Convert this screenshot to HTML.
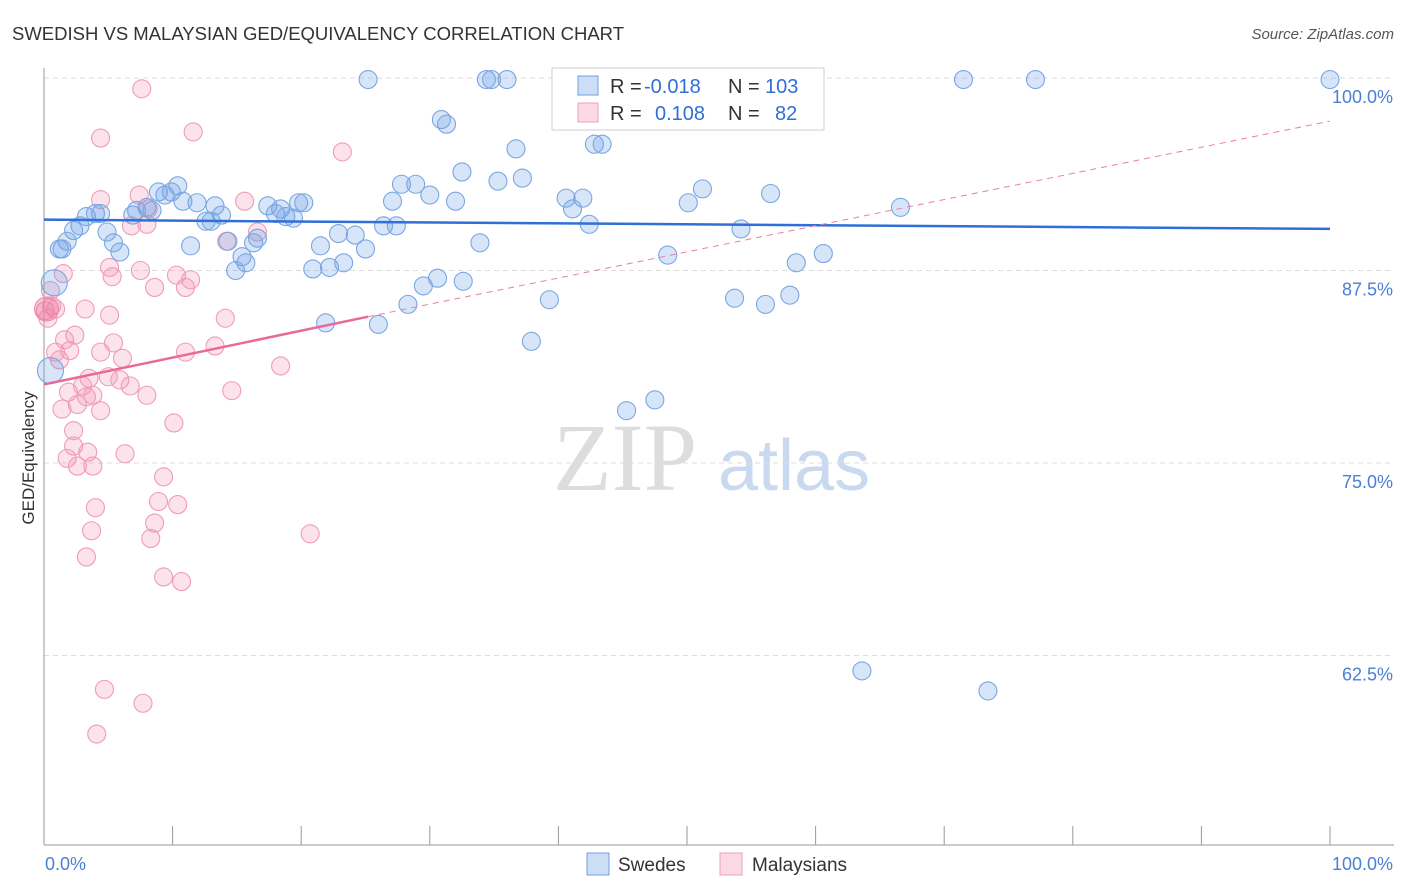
<!DOCTYPE html>
<html><head><meta charset="utf-8"><style>
body{margin:0;background:#fff;font-family:"Liberation Sans",sans-serif}
svg{display:block}
</style></head><body>
<svg id="c" width="1406" height="892"></svg>
<script>
const blueX=[25.2,34.4,34.8,36.0,41.3,46.8,50.2,71.5,77.1,100,30.9,31.3,36.7,42.8,43.4,32.5,35.3,37.2,27.8,28.9,30.0,27.1,32.0,40.6,41.9,41.1,51.2,56.5,50.1,66.6,10.4,8.9,9.4,9.9,10.8,11.9,13.3,8.0,8.4,7.2,6.9,13.8,12.6,13.0,17.4,18.0,18.4,18.8,19.4,19.8,20.2,3.3,4.0,4.4,2.8,2.3,4.9,5.4,5.9,1.8,1.4,1.2,11.4,14.3,16.6,16.3,15.4,15.7,14.9,21.5,22.9,24.2,25.0,26.4,27.4,33.9,42.4,54.2,20.9,22.2,23.3,30.6,29.5,32.6,28.3,39.3,48.5,58.5,60.6,53.7,56.1,58.0,21.9,26.0,37.9,45.3,47.5,63.6,73.4];
const blueY=[99.9,99.9,99.9,99.9,99.9,99.9,99.9,99.9,99.9,99.9,97.3,97.0,95.4,95.7,95.7,93.9,93.3,93.5,93.1,93.1,92.4,92.0,92.0,92.2,92.2,91.5,92.8,92.5,91.9,91.6,93.0,92.6,92.4,92.6,92.0,91.9,91.7,91.6,91.4,91.4,91.1,91.1,90.7,90.7,91.7,91.2,91.5,91.0,90.9,91.9,91.9,91.0,91.2,91.2,90.4,90.1,90.0,89.3,88.7,89.4,88.9,88.9,89.1,89.4,89.6,89.3,88.4,88.0,87.5,89.1,89.9,89.8,88.9,90.4,90.4,89.3,90.5,90.2,87.6,87.7,88.0,87.0,86.5,86.8,85.3,85.6,88.5,88.0,88.6,85.7,85.3,85.9,84.1,84.0,82.9,78.4,79.1,61.5,60.2];
const blueBigX=[0.8,0.5], blueBigY=[86.7,81.0];
const pinkX=[7.6,11.6,4.4,23.2,4.4,7.4,15.6,16.6,6.8,8.0,8.1,14.2,5.1,5.3,7.5,10.3,11.4,11.0,8.6,1.5,0.5,0.6,0.9,0.1,0.3,3.2,5.1,14.1,2.4,1.6,2.0,0.9,4.4,5.4,13.3,11.0,6.1,18.4,5.0,3.5,6.7,8.0,14.6,3.0,1.9,3.3,3.8,2.6,4.4,1.4,10.1,2.3,2.3,3.4,1.8,6.3,2.6,3.8,9.3,4.0,8.9,10.4,8.6,3.7,8.3,20.7,3.3,9.3,10.7,4.7,7.7,4.1,5.9,1.2];
const pinkY=[99.3,96.5,96.1,95.2,92.1,92.4,92.0,90.0,90.4,90.5,91.5,89.4,87.7,87.1,87.5,87.2,86.9,86.4,86.4,87.3,86.2,85.2,85.0,84.9,84.4,85.0,84.6,84.4,83.3,83.0,82.3,82.2,82.2,82.8,82.6,82.2,81.8,81.3,80.6,80.5,80.0,79.4,79.7,80.0,79.6,79.3,79.4,78.8,78.4,78.5,77.6,77.1,76.1,75.7,75.3,75.6,74.8,74.8,74.1,72.1,72.5,72.3,71.1,70.6,70.1,70.4,68.9,67.6,67.3,60.3,59.4,57.4,80.4,81.7];
const pinkBigX=[0.2], pinkBigY=[85.0];
const yTicks=[100,87.5,75,62.5];
const yTickLabels=["100.0%","87.5%","75.0%","62.5%"];
const blueTrend=[90.8,90.2];
const pinkTrend=[80.1,84.5,97.2];

const NS="http://www.w3.org/2000/svg", svg=document.getElementById('c');
const X=v=>44+v*12.86, Y=v=>78+(100-v)*15.4;
function el(t,a,p){const e=document.createElementNS(NS,t);for(const k in a)e.setAttribute(k,a[k]);(p||svg).appendChild(e);return e;}

let t=el('text',{x:12,y:40,'font-size':18.5,fill:'#333'});t.textContent='SWEDISH VS MALAYSIAN GED/EQUIVALENCY CORRELATION CHART';

t=el('text',{x:1394,y:39,'font-size':15,fill:'#555','text-anchor':'end','font-style':'italic'});t.textContent='Source: ZipAtlas.com';


t=el('text',{x:553,y:490,'font-size':96,fill:'#ddd','font-family':'Liberation Serif,serif'});t.textContent='ZIP';

t=el('text',{x:718,y:490,'font-size':72,fill:'#c9d9f0'});t.textContent='atlas';


yTicks.forEach((v,i)=>{
 const g=el('line',{x1:44,x2:1394,y1:Y(v),y2:Y(v),stroke:'#ddd','stroke-dasharray':'5,4'});
 
 const l=el('text',{x:1393,y:Y(v)+25,'font-size':18,fill:'#4a7fd6','text-anchor':'end'});l.textContent=yTickLabels[i];
 
});
let a=el('line',{x1:44,x2:44,y1:68,y2:845,stroke:'#999'});
a=el('line',{x1:44,x2:1394,y1:845,y2:845,stroke:'#999'});
for(let i=0;i<=10;i++){const k=el('line',{x1:X(i*10),x2:X(i*10),y1:826,y2:845,stroke:'#999'});}
t=el('text',{x:45,y:870,'font-size':18,fill:'#4a7fd6'});t.textContent='0.0%';
t=el('text',{x:1393,y:870,'font-size':18,fill:'#4a7fd6','text-anchor':'end'});t.textContent='100.0%';
t=el('text',{x:34,y:458,'font-size':17,fill:'#333','text-anchor':'middle',transform:'rotate(-90 34 458)'});t.textContent='GED/Equivalency';


function dots(xs,ys,r,fill,stroke,name){xs.forEach((x,i)=>{const c=el('circle',{cx:X(x),cy:Y(ys[i]),r:r,fill:fill,stroke:stroke,'stroke-width':1.1});
 });}
dots(pinkX,pinkY,9,'rgba(244,150,180,0.28)','#ef9cb8','malaysian-point');
dots(pinkBigX,pinkBigY,12,'rgba(236,100,140,0.35)','#ec8aab','malaysian-point');
dots(blueX,blueY,9,'rgba(110,160,230,0.28)','#7aa6e2','swede-point');
dots(blueBigX,blueBigY,13,'rgba(110,160,230,0.28)','#7aa6e2','swede-point');

let L=el('line',{x1:X(0),y1:Y(blueTrend[0]),x2:X(100),y2:Y(blueTrend[1]),stroke:'#2f6fd6','stroke-width':2.5});

L=el('line',{x1:X(25.2),y1:Y(pinkTrend[1]),x2:X(100),y2:Y(pinkTrend[2]),stroke:'#e87fa3','stroke-width':1,'stroke-dasharray':'6,5'});

L=el('line',{x1:X(0),y1:Y(pinkTrend[0]),x2:X(25.2),y2:Y(pinkTrend[1]),stroke:'#e8699a','stroke-width':2.5});


const lg=el('g',{});
el('rect',{x:552,y:68,width:272,height:62,fill:'#fff',stroke:'#ccc'},lg);
el('rect',{x:578,y:76,width:20,height:19,fill:'rgba(110,160,230,0.35)',stroke:'#6f9fe0'},lg);
el('rect',{x:578,y:103,width:20,height:19,fill:'rgba(244,150,180,0.35)',stroke:'#ef9cb8'},lg);
function lt(x,y,s,c,name){const e=el('text',{x:x,y:y,'font-size':20,fill:c},lg);e.textContent=s;}
lt(610,93,'R =','#333','r-label');lt(644,93,'-0.018','#2f6fd6','r-value-swedes');lt(728,93,'N =','#333','n-label');lt(765,93,'103','#2f6fd6','n-value-swedes');
lt(610,120,'R =','#333','r-label');lt(655,120,'0.108','#2f6fd6','r-value-malaysians');lt(728,120,'N =','#333','n-label');lt(775,120,'82','#2f6fd6','n-value-malaysians');

let r=el('rect',{x:587,y:853,width:22,height:22,fill:'rgba(110,160,230,0.35)',stroke:'#6f9fe0'});
t=el('text',{x:618,y:871,'font-size':19,fill:'#333'});t.textContent='Swedes';
r=el('rect',{x:720,y:853,width:22,height:22,fill:'rgba(244,150,180,0.35)',stroke:'#ef9cb8'});
t=el('text',{x:752,y:871,'font-size':19,fill:'#333'});t.textContent='Malaysians';
</script>
</body></html>
